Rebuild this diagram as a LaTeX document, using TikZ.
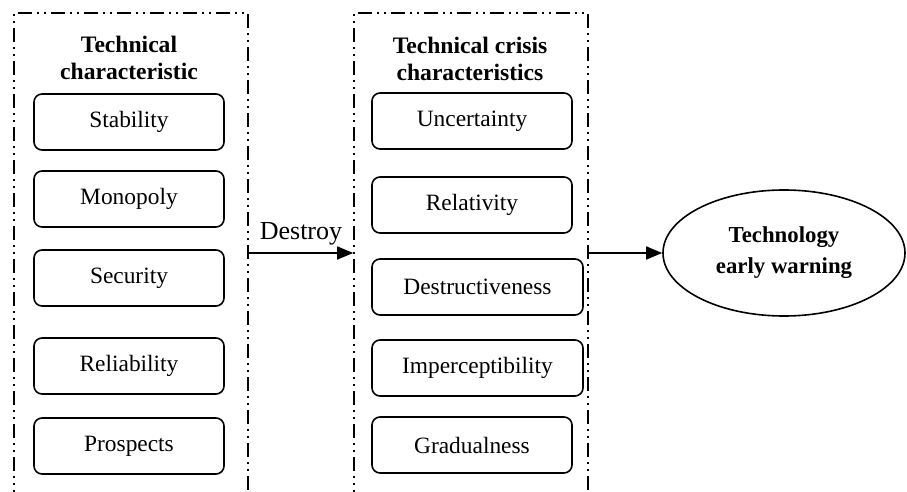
\documentclass[tikz,border=0pt]{standalone}
\usepackage{fontspec}
\setmainfont{Liberation Serif}
\usetikzlibrary{shapes.geometric,arrows.meta}

\tikzset{
  itembox/.style={draw, rounded corners=4pt, line width=0.8pt, minimum height=28pt, inner sep=0pt, font=\fontsize{11.7}{14}\selectfont},
  groupbox/.style={draw, line width=0.8pt, dash pattern=on 7pt off 2.5pt on 1pt off 2.5pt on 1pt off 2.5pt, minimum width=117pt, minimum height=253.5pt, inner sep=0pt},
  grouptitle/.style={align=center, font=\fontsize{11.8}{13.5}\selectfont\bfseries},
  link/.style={line width=0.8pt, -{Triangle[length=8pt,width=6.5pt]}}
}

\begin{document}
\begin{tikzpicture}[x=0.5pt,y=-0.5pt] % one unit is one pixel of the original
	\useasboundingbox (0,0) rectangle (907,492);
	\clip (0,0) rectangle (907,492); % the group frames run off the bottom
	
	% Group frames
	\node[groupbox] (charbox) at (131,266.5) {};
	\node[groupbox] (crisisbox) at (471,266.5) {};
	
	% Titles
	\node[grouptitle] (chartitle) at (129,58) {Technical\\characteristic};
	\node[grouptitle] (crisistitle) at (470,59) {Technical crisis\\characteristics};
	
	% Technical characteristics
	\foreach \name/\y/\txt in {stab/122/Stability, mono/199/Monopoly, secu/278/Security, reli/366/Reliability, pros/446/Prospects}
	\node[itembox, minimum width=95pt] (\name) at (129,\y) {\txt};
	
	% Crisis characteristics
	\foreach \name/\x/\y/\w/\txt in {unce/472/121/100/Uncertainty, rela/472/205/100/Relativity, dest/477.5/287/105.5/Destructiveness, impe/477.5/368/105.5/Imperceptibility, grad/472/445/100/Gradualness}
	\node[itembox, minimum width=\w pt] (\name) at (\x,\y) {\txt};
	
	% Early warning
	\node[ellipse, draw, line width=0.8pt, minimum width=121pt, minimum height=63pt, inner sep=0pt, align=center, font=\fontsize{11.4}{15.5}\selectfont\bfseries] (warn) at (784,253) {Technology\\early warning};
	
	% Arrows
	\draw[link] (charbox.east |- warn.west) -- node[above, font=\fontsize{13}{15}\selectfont] (destroy) {Destroy} (crisisbox.west |- warn.west);
	\draw[link] (crisisbox.east |- warn.west) -- (warn.west);
\end{tikzpicture}
\end{document}
